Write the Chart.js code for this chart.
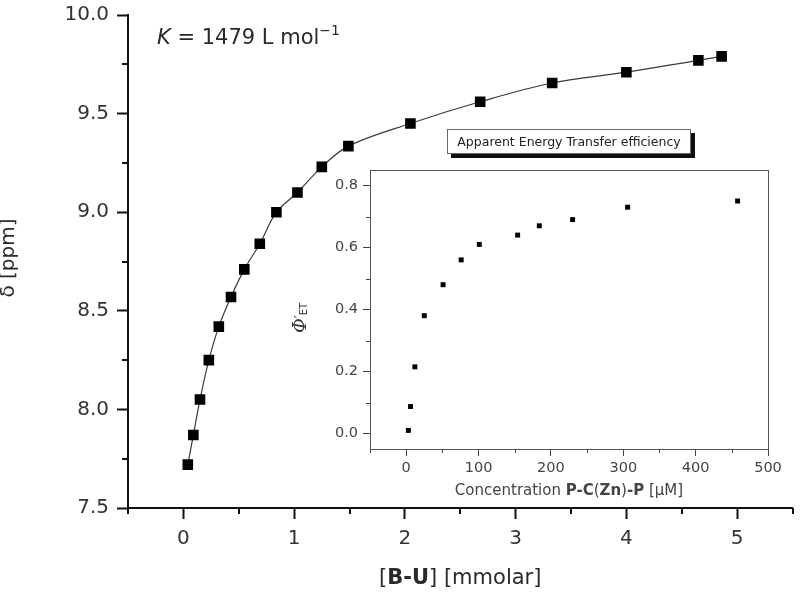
<!DOCTYPE html>
<html>
<head>
<meta charset="utf-8">
<script src="https://cdn.jsdelivr.net/npm/chart.js@4.4.1/dist/chart.umd.min.js"></script>
<style>
  html, body { margin: 0; padding: 0; background: #fff; }
  #wrap { position: relative; width: 800px; height: 598px; }
  #main { position: absolute; left: 0; top: 0; }
  #inset { position: absolute; left: 290px; top: 120px; }
</style>
</head>
<body>
<div id="wrap">
  <canvas id="main" width="800" height="598"></canvas>
  <canvas id="inset" width="500" height="385"></canvas>
</div>
<script>
// main titration: [B-U] in mmolar vs chemical shift
const concBU = [0.04, 0.09, 0.15, 0.23, 0.32, 0.43, 0.55, 0.69, 0.84, 1.03, 1.25, 1.49, 2.05, 2.68, 3.33, 4.00, 4.65, 4.86];
const shiftPpm = [7.72, 7.87, 8.05, 8.25, 8.42, 8.57, 8.71, 8.84, 9.00, 9.10, 9.23, 9.335, 9.45, 9.56, 9.655, 9.71, 9.77, 9.79];

// inset: apparent energy transfer efficiency
const concP = [3, 6, 12, 25, 51, 76, 101, 154, 184, 230, 306, 458];
const phiET = [0.01, 0.087, 0.215, 0.38, 0.48, 0.56, 0.61, 0.64, 0.67, 0.69, 0.73, 0.75];

const mainXMajor = [0, 1, 2, 3, 4, 5];
const mainYMajor = [7.5, 8.0, 8.5, 9.0, 9.5, 10.0];
const insetXMajor = [0, 100, 200, 300, 400, 500];
const insetYMajor = [0, 0.2, 0.4, 0.6, 0.8];

const SANS = '"DejaVu Sans", sans-serif';
const SERIF = '"DejaVu Serif", serif';

function near(list, v) {
    return list.some(t => Math.abs(t - v) < 1e-6);
}

function stepTicks(from, to, step) {
    const out = [];
    for (let v = from; v <= to + step / 1000; v += step) {
        out.push({ value: Math.round(v * 1000) / 1000 });
    }
    return out;
}

// keep the plot box where the layout padding puts it
function noScalePad(s) {
    s.paddingLeft = 0; s.paddingRight = 0; s.paddingTop = 0; s.paddingBottom = 0;
}

// draws a row of text pieces with their own fonts
function drawParts(ctx, parts, x, y, align) {
    let w = 0;
    parts.forEach(p => { ctx.font = p.font; p.w = ctx.measureText(p.t).width; w += p.w; });
    let cx = align === 'center' ? x - w / 2 : x;
    ctx.textAlign = 'left';
    ctx.textBaseline = 'alphabetic';
    parts.forEach(p => {
        ctx.font = p.font;
        ctx.fillText(p.t, cx, y + (p.dy || 0));
        cx += p.w;
    });
}

function minorTicks(xMajor, yMajor, len, color, width) {
    return {
        id: 'minorTicks',
        afterDraw(chart) {
            const ctx = chart.ctx;
            ctx.save();
            ctx.strokeStyle = color;
            ctx.lineWidth = width;
            const sx = chart.scales.x, sy = chart.scales.y;
            const off = width % 2 ? 0.5 : 0;
            sx.ticks.forEach(t => {
                if (near(xMajor, t.value)) return;
                const p = Math.round(sx.getPixelForValue(t.value)) + off;
                ctx.beginPath(); ctx.moveTo(p, sx.top); ctx.lineTo(p, sx.top + len); ctx.stroke();
            });
            sy.ticks.forEach(t => {
                if (near(yMajor, t.value)) return;
                const p = Math.round(sy.getPixelForValue(t.value)) + off;
                ctx.beginPath(); ctx.moveTo(sy.right, p); ctx.lineTo(sy.right - len, p); ctx.stroke();
            });
            ctx.restore();
        }
    };
}

const mainText = {
    id: 'mainText',
    afterDraw(chart) {
        const ctx = chart.ctx;
        ctx.save();
        ctx.fillStyle = '#2a2a2a';
        // K annotation
        drawParts(ctx, [
            { t: 'K', font: 'italic 21px ' + SANS },
            { t: ' = 1479 L mol', font: '21px ' + SANS },
            { t: '\u22121', font: '14px ' + SANS, dy: -9 }
        ], 157, 44, 'left');
        // x axis title
        const area = chart.chartArea;
        drawParts(ctx, [
            { t: '[', font: '21px ' + SANS },
            { t: 'B-U', font: 'bold 21px ' + SANS },
            { t: '] [mmolar]', font: '21px ' + SANS }
        ], (area.left + area.right) / 2, 584, 'center');
        // y axis title
        ctx.translate(14, 258);
        ctx.rotate(-Math.PI / 2);
        drawParts(ctx, [{ t: '\u03b4 [ppm]', font: '20px ' + SANS }], 0, 0, 'center');
        ctx.restore();
    }
};

const insetText = {
    id: 'insetText',
    afterDraw(chart) {
        const ctx = chart.ctx;
        const a = chart.chartArea;
        ctx.save();
        // frame on all four sides
        ctx.strokeStyle = '#555';
        ctx.lineWidth = 1;
        ctx.strokeRect(Math.round(a.left) + 0.5, Math.round(a.top) + 0.5,
            Math.round(a.right - a.left), Math.round(a.bottom - a.top));

        // title box with drop shadow
        const bw = 244, bh = 25;
        const bx = Math.round((a.left + a.right) / 2 - bw / 2), by = Math.round(a.top - 41);
        ctx.fillStyle = '#111';
        ctx.fillRect(bx + 4, by + 4, bw, bh);
        ctx.fillStyle = '#fff';
        ctx.fillRect(bx, by, bw, bh);
        ctx.strokeStyle = '#666';
        ctx.strokeRect(bx + 0.5, by + 0.5, bw - 1, bh - 1);
        ctx.fillStyle = '#222';
        drawParts(ctx, [{ t: 'Apparent Energy Transfer efficiency', font: '12.5px ' + SANS }],
            bx + bw / 2, by + bh / 2 + 4.5, 'center');

        // x title
        ctx.fillStyle = '#444';
        drawParts(ctx, [
            { t: 'Concentration ', font: '15px ' + SANS },
            { t: 'P-C', font: 'bold 15px ' + SANS },
            { t: '(', font: '15px ' + SANS },
            { t: 'Zn', font: 'bold 15px ' + SANS },
            { t: ')', font: '15px ' + SANS },
            { t: '-P', font: 'bold 15px ' + SANS },
            { t: ' [\u03bcM]', font: '15px ' + SANS }
        ], (a.left + a.right) / 2, 375, 'center');

        // y title
        ctx.fillStyle = '#333';
        ctx.translate(16, 198);
        ctx.rotate(-Math.PI / 2);
        drawParts(ctx, [
            { t: '\u03a6', font: 'italic 18px ' + SERIF },
            { t: '\u2032', font: '13px ' + SERIF, dy: -2 },
            { t: 'ET', font: '10px ' + SANS, dy: 1 }
        ], 0, 0, 'center');
        ctx.restore();
    }
};

new Chart(document.getElementById('main').getContext('2d'), {
    type: 'scatter',
    data: {
        datasets: [{
            data: concBU.map((x, i) => ({ x: x, y: shiftPpm[i] })),
            showLine: true,
            borderColor: '#3a3a3a',
            borderWidth: 1.2,
            tension: 0.35,
            pointStyle: 'rect',
            pointRadius: 7.5,
            pointBackgroundColor: '#000',
            pointBorderWidth: 0,
            pointHoverRadius: 7.5
        }]
    },
    options: {
        responsive: false,
        animation: false,
        devicePixelRatio: 1,
        layout: { padding: { top: 15, right: 3, left: 0, bottom: 0 } },
        plugins: { legend: { display: false }, tooltip: { enabled: false } },
        scales: {
            x: {
                type: 'linear',
                min: -0.5, max: 5.5,
                afterBuildTicks: s => { s.ticks = stepTicks(-0.5, 5.5, 0.5); },
                afterFit: s => { s.height = 90; noScalePad(s); },
                grid: {
                    drawOnChartArea: false,
                    tickLength: 11,
                    tickWidth: 2,
                    tickColor: c => near(mainXMajor, c.tick.value) ? '#111' : 'rgba(0,0,0,0)'
                },
                border: { color: '#111', width: 2 },
                ticks: {
                    autoSkip: false, maxRotation: 0, padding: 8,
                    color: '#333',
                    font: { family: SANS, size: 20 },
                    callback: v => near(mainXMajor, v) ? String(v) : ''
                }
            },
            y: {
                type: 'linear',
                min: 7.5, max: 10,
                afterBuildTicks: s => { s.ticks = stepTicks(7.5, 10, 0.25); },
                afterFit: s => { s.width = 128; noScalePad(s); },
                grid: {
                    drawOnChartArea: false,
                    tickLength: 11,
                    tickWidth: 2,
                    tickColor: c => near(mainYMajor, c.tick.value) ? '#111' : 'rgba(0,0,0,0)'
                },
                border: { color: '#111', width: 2 },
                ticks: {
                    autoSkip: false, padding: 8,
                    color: '#333',
                    font: { family: SANS, size: 20 },
                    callback: v => near(mainYMajor, v) ? v.toFixed(1) : ''
                }
            }
        }
    },
    plugins: [minorTicks(mainXMajor, mainYMajor, 6, '#111', 2), mainText]
});

new Chart(document.getElementById('inset').getContext('2d'), {
    type: 'scatter',
    data: {
        datasets: [{
            data: concP.map((x, i) => ({ x: x, y: phiET[i] })),
            pointStyle: 'rect',
            pointRadius: 3.5,
            pointBackgroundColor: '#000',
            pointBorderWidth: 0,
            pointHoverRadius: 3.5
        }]
    },
    options: {
        responsive: false,
        animation: false,
        devicePixelRatio: 1,
        layout: { padding: { top: 50, right: 22, left: 0, bottom: 0 } },
        plugins: { legend: { display: false }, tooltip: { enabled: false } },
        scales: {
            x: {
                type: 'linear',
                min: -50, max: 500,
                afterBuildTicks: s => { s.ticks = stepTicks(-50, 500, 50); },
                afterFit: s => { s.height = 56; noScalePad(s); },
                grid: {
                    drawOnChartArea: false,
                    tickLength: 7,
                    tickWidth: 1,
                    tickColor: c => near(insetXMajor, c.tick.value) ? '#444' : 'rgba(0,0,0,0)'
                },
                border: { color: '#555', width: 1 },
                ticks: {
                    autoSkip: false, maxRotation: 0, padding: 4,
                    color: '#444',
                    font: { family: SANS, size: 14.5 },
                    callback: v => near(insetXMajor, v) ? String(v) : ''
                }
            },
            y: {
                type: 'linear',
                min: -0.05, max: 0.85,
                afterBuildTicks: s => { s.ticks = stepTicks(0, 0.8, 0.1); },
                afterFit: s => { s.width = 80; noScalePad(s); },
                grid: {
                    drawOnChartArea: false,
                    tickLength: 7,
                    tickWidth: 1,
                    tickColor: c => near(insetYMajor, c.tick.value) ? '#444' : 'rgba(0,0,0,0)'
                },
                border: { color: '#555', width: 1 },
                ticks: {
                    autoSkip: false, padding: 5,
                    color: '#444',
                    font: { family: SANS, size: 14.5 },
                    callback: v => near(insetYMajor, v) ? v.toFixed(1) : ''
                }
            }
        }
    },
    plugins: [minorTicks(insetXMajor, insetYMajor, 4, '#444', 1), insetText]
});
</script>
</body>
</html>
